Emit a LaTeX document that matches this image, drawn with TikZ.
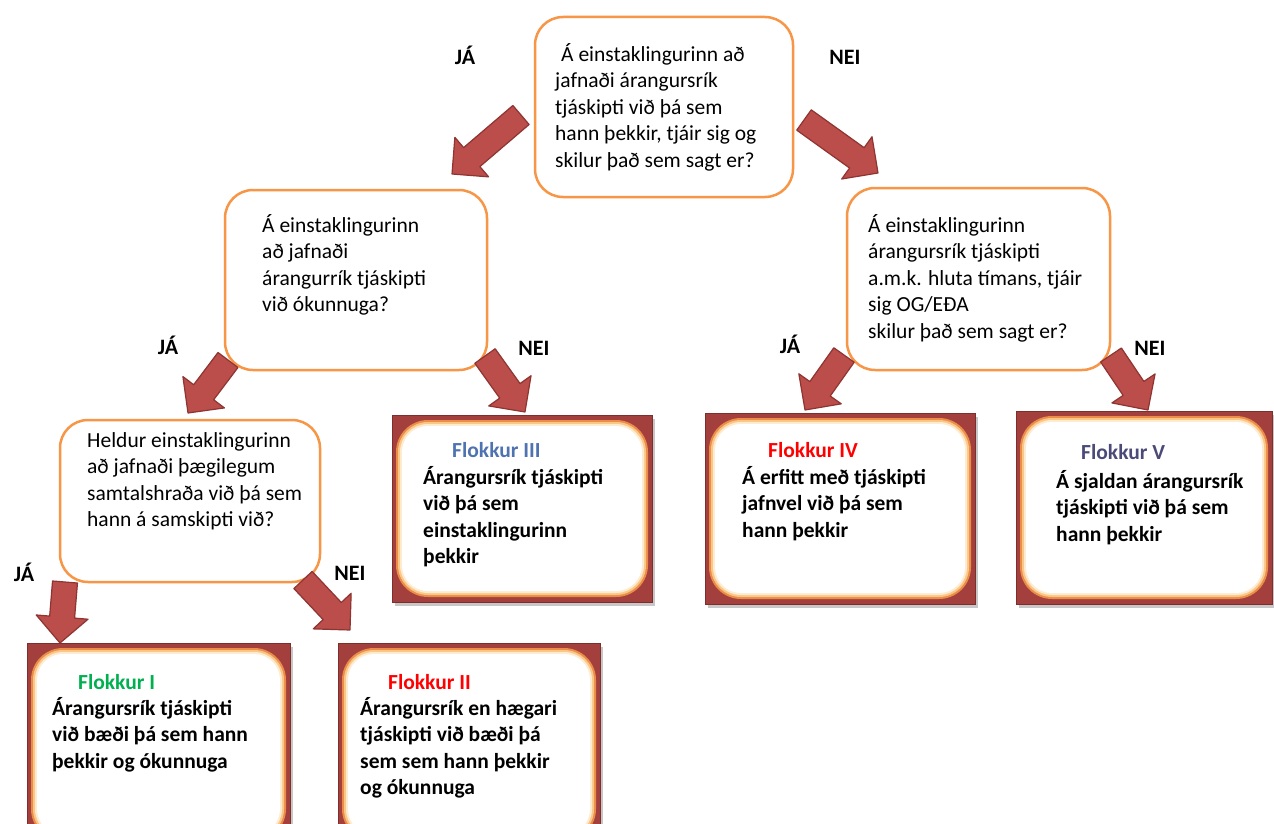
\documentclass[tikz,border=0pt]{standalone}
\usepackage{fontspec}
\setmainfont{Carlito}
\usetikzlibrary{calc}

\definecolor{qorange}{HTML}{F79646}
\definecolor{arrfill}{HTML}{BB4D4A}
\definecolor{arredge}{HTML}{8E3431}
\definecolor{framered}{HTML}{A3403E}
\definecolor{frameedge}{HTML}{7E2E2C}
\definecolor{glowA}{HTML}{EC8C47}
\definecolor{glowB}{HTML}{F9C888}
\definecolor{glowC}{HTML}{FEEBD0}
\definecolor{catgreen}{HTML}{00B050}
\definecolor{catred}{HTML}{FF0000}
\definecolor{catblue}{HTML}{4F73B0}
\definecolor{catslate}{HTML}{4B4A78}

% multi-line texts are hung from the top: the first line gets a fixed
% 20pt height, so its baseline sits 20pt below the given point
\tikzset{
  qbox/.style={draw=qorange, line width=2.5pt, fill=white, rounded corners=28pt, inner sep=0pt},
  rframe/.style={fill=framered, draw=frameedge, line width=0.8pt, inner sep=0pt},
  qtext/.style={anchor=north west, align=left, inner sep=0pt,
    font=\fontsize{21.5}{26.5}\selectfont, execute at begin node={\rule{0pt}{20pt}}},
  rtext/.style={anchor=north west, align=left, inner sep=0pt,
    font=\bfseries\fontsize{21.5}{26.5}\selectfont, execute at begin node={\rule{0pt}{20pt}}},
  rhead/.style={anchor=base west, inner sep=0pt, font=\bfseries\fontsize{21.5}{24}\selectfont},
  lbl/.style={inner sep=0pt, font=\bfseries\fontsize{22}{26}\selectfont},
  barrow/.style={fill=arrfill, draw=arredge, line width=1.2pt, line join=round},
}

% result box: dark red frame with a glowing white rounded panel inside
% #1 name, #2 left, #3 top, #4 right, #5 bottom
\newcommand{\flokkbox}[5]{%
  \fill[black!22] (#2+3,#3+4) rectangle (#4+3,#5+4);
  \node[rframe, minimum width=#4-#2, minimum height=#5-#3] (#1) at ({(#2+#4)/2},{(#3+#5)/2}) {};
  \fill[glowA, rounded corners=32pt] (#2+4,#3+5) rectangle (#4-4,#5-5);
  \fill[glowB, rounded corners=30pt] (#2+6,#3+7) rectangle (#4-6,#5-7);
  \fill[glowC, rounded corners=28pt] (#2+8,#3+9) rectangle (#4-8,#5-9);
  \fill[white, rounded corners=26pt] (#2+10,#3+11) rectangle (#4-10,#5-11);
}

% thick block arrow from tail #2 to tip #3; #1 names the head base point
\newcommand{\blockarrow}[3]{%
  \coordinate (#1) at ($(#3)!26pt!(#2)$);
  \filldraw[barrow] ($(#2)!12.5pt!90:(#3)$) -- ($(#1)!12.5pt!90:(#3)$)
    -- ($(#1)!26pt!90:(#3)$) -- (#3) -- ($(#1)!26pt!-90:(#3)$)
    -- ($(#1)!12.5pt!-90:(#3)$) -- ($(#2)!12.5pt!-90:(#3)$) -- cycle;
}

\begin{document}
\begin{tikzpicture}[x=1pt,y=-1pt]
\clip (0,0) rectangle (1274,824);
\fill[white] (0,0) rectangle (1274,824);

% question boxes
\node[qbox, minimum width=258, minimum height=180] (q1) at (664,107) {};
\node[qbox, minimum width=262, minimum height=180] (q2l) at (356,280) {};
\node[qbox, minimum width=263, minimum height=182] (q2r) at (978.5,279) {};
\node[qbox, minimum width=260, minimum height=162] (q3) at (190,501) {};

% result boxes
\flokkbox{f3}{392}{415}{652}{602}
\flokkbox{f4}{705}{413}{975}{604}
\flokkbox{f5}{1016}{411}{1272}{604}
\flokkbox{f1}{27}{643}{290}{846}
\flokkbox{f2}{338}{643}{600}{846}

% arrow end points
\coordinate (a1s) at (521,115);  \coordinate (a1e) at (452,174);
\coordinate (a2s) at (804,120);  \coordinate (a2e) at (878,173);
\coordinate (a3s) at (228,360);  \coordinate (a3e) at (188,413);
\coordinate (a4s) at (485,356);  \coordinate (a4e) at (525,412);
\coordinate (a5s) at (844,355);  \coordinate (a5e) at (805,410);
\coordinate (a6s) at (1111,355); \coordinate (a6e) at (1148,410);
\coordinate (a7s) at (65,582);   \coordinate (a7e) at (60,643);
\coordinate (a8s) at (303,580);  \coordinate (a8e) at (350,630);

\blockarrow{a1b}{a1s}{a1e}
\blockarrow{a2b}{a2s}{a2e}
\blockarrow{a3b}{a3s}{a3e}
\blockarrow{a4b}{a4s}{a4e}
\blockarrow{a5b}{a5s}{a5e}
\blockarrow{a6b}{a6s}{a6e}
\blockarrow{a7b}{a7s}{a7e}
\blockarrow{a8b}{a8s}{a8e}

% question texts (point = first baseline - 20)
\node[qtext] (q1t) at (555,43) {\hspace*{6pt}Á einstaklingurinn að\\jafnaði árangursrík\\tjáskipti við þá sem\\hann þekkir, tjáir sig og\\skilur það sem sagt er?};
\node[qtext] (q2lt) at (262,214) {Á einstaklingurinn\\að jafnaði\\árangurrík tjáskipti\\við ókunnuga?};
\node[qtext] (q2rt) at (868,214) {Á einstaklingurinn\\árangursrík tjáskipti\\a.m.k. hluta tímans, tjáir\\sig OG/EÐA\\skilur það sem sagt er?};
\node[qtext] (q3t) at (87,432) {Heldur einstaklingurinn\\að jafnaði þægilegum\\samtalshraða við þá sem\\hann á samskipti við?};

% result texts
\node[rhead, text=catblue] (f3h) at (452,457) {Flokkur III};
\node[rtext] (f3t) at (423,466) {Árangursrík tjáskipti\\við þá sem\\einstaklingurinn\\þekkir};
\node[rhead, text=catred] (f4h) at (768,457) {Flokkur IV};
\node[rtext] (f4t) at (742,466) {Á erfitt með tjáskipti\\jafnvel við þá sem\\hann þekkir};
\node[rhead, text=catslate] (f5h) at (1081,459) {Flokkur V};
\node[rtext] (f5t) at (1056,470) {Á sjaldan árangursrík\\tjáskipti við þá sem\\hann þekkir};
\node[rhead, text=catgreen] (f1h) at (78,689) {Flokkur I};
\node[rtext] (f1t) at (52,697) {Árangursrík tjáskipti\\við bæði þá sem hann\\þekkir og ókunnuga};
\node[rhead, text=catred] (f2h) at (388,689) {Flokkur II};
\node[rtext] (f2t) at (360,697) {Árangursrík en hægari\\tjáskipti við bæði þá\\sem sem hann þekkir\\og ókunnuga};

% branch labels
\node[lbl] (l1) at (465,55) {JÁ};
\node[lbl] (l2) at (845,57) {NEI};
\node[lbl] (l3) at (168,345) {JÁ};
\node[lbl] (l4) at (534,348) {NEI};
\node[lbl] (l5) at (790,344) {JÁ};
\node[lbl] (l6) at (1150,348) {NEI};
\node[lbl] (l7) at (24,572) {JÁ};
\node[lbl] (l8) at (350,573) {NEI};
\end{tikzpicture}
\end{document}
